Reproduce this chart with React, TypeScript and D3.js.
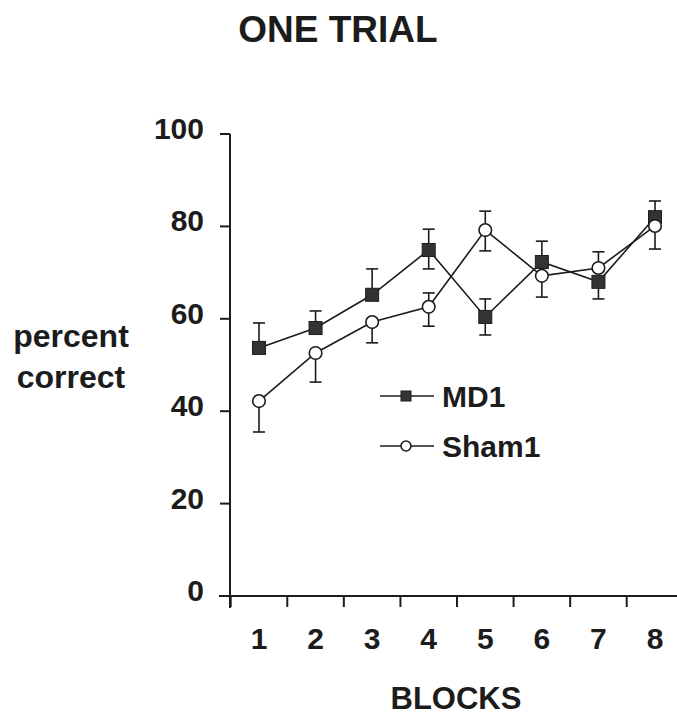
import React from 'react';
import * as d3 from 'd3';

// blocks on the x axis
const blocks = ['1', '2', '3', '4', '5', '6', '7', '8'];
// percent correct per block
const md1 = [53.7, 58.0, 65.2, 74.9, 60.4, 72.3, 68.0, 82.0];
const sham1 = [42.2, 52.6, 59.3, 62.6, 79.2, 69.3, 71.0, 80.1];
// error bars as drawn (0 = not drawn / hidden)
const md1ErrUp = [5.4, 3.7, 5.6, 4.5, 3.9, 4.5, 0, 3.5];
const md1ErrDown = [0, 0, 0, 4.1, 3.9, 0, 3.7, 0];
const shamErrUp = [0, 0, 0, 3.0, 4.1, 0, 3.5, 0];
const shamErrDown = [6.7, 6.3, 4.5, 4.2, 4.5, 4.6, 0, 5.0];
const yTicks = [0, 20, 40, 60, 80, 100];

const W = 677;
const H = 717;
const font = '"Liberation Sans", Arial, sans-serif';
const ink = '#1c1c1c';

const App = () => {
  const x = d3.scaleBand().domain(blocks).range([230.7, 683.3]).padding(0);
  const y = d3.scaleLinear().domain([0, 100]).range([596, 134]);
  const cx = (b: string) => (x(b) as number) + x.bandwidth() / 2;

  const line = d3.line<number>()
    .x((_, i) => cx(blocks[i]))
    .y(d => y(d));

  const errBars = (vals: number[], up: number[], down: number[], key: string) =>
    vals.map((v, i) => {
      const px = cx(blocks[i]);
      const parts = [];
      if (up[i] > 0) {
        parts.push(<line key="u" x1={px} x2={px} y1={y(v)} y2={y(v + up[i])} />);
        parts.push(<line key="uc" x1={px - 6} x2={px + 6} y1={y(v + up[i])} y2={y(v + up[i])} />);
      }
      if (down[i] > 0) {
        parts.push(<line key="d" x1={px} x2={px} y1={y(v)} y2={y(v - down[i])} />);
        parts.push(<line key="dc" x1={px - 6} x2={px + 6} y1={y(v - down[i])} y2={y(v - down[i])} />);
      }
      return <g key={key + i}>{parts}</g>;
    });

  const bandEdges = blocks.map(b => x(b) as number);

  return (
    <svg width={W} height={H} style={{ position: 'absolute', left: 0, top: 0, background: '#fff' }}>
      <rect width={W} height={H} fill="#fff" />
      <text x={338} y={42} textAnchor="middle" fontFamily={font} fontWeight="bold" fontSize={37} fill={ink}>
        ONE TRIAL
      </text>

      {/* axes */}
      <g stroke={ink} strokeWidth={2} fill="none">
        <line x1={230} x2={230} y1={y(100)} y2={608} />
        <line x1={219} x2={W} y1={y(0)} y2={y(0)} />
        {yTicks.map(t => (
          <line key={t} x1={220} x2={230} y1={y(t)} y2={y(t)} />
        ))}
        {bandEdges.map((e, i) => (
          <line key={i} x1={e} x2={e} y1={y(0)} y2={y(0) + 11} />
        ))}
      </g>
      <g fontFamily={font} fontWeight="bold" fontSize={30} fill={ink}>
        {yTicks.map(t => (
          <text key={t} x={204} y={y(t) + 5} textAnchor="end">{t}</text>
        ))}
        {blocks.map(b => (
          <text key={b} x={cx(b)} y={649} textAnchor="middle">{b}</text>
        ))}
      </g>
      <g fontFamily={font} fontWeight="bold" fontSize={32} fill={ink} textAnchor="middle">
        <text x={71} y={347}>percent</text>
        <text x={71} y={388}>correct</text>
      </g>
      <text x={456} y={709} textAnchor="middle" fontFamily={font} fontWeight="bold" fontSize={31} fill={ink}>
        BLOCKS
      </text>

      {/* MD1 */}
      <g stroke={ink} strokeWidth={1.6}>{errBars(md1, md1ErrUp, md1ErrDown, 'm')}</g>
      <path d={line(md1) || ''} fill="none" stroke={ink} strokeWidth={1.6} />
      {md1.map((v, i) => (
        <rect key={i} x={cx(blocks[i]) - 6.5} y={y(v) - 6.5} width={13} height={13} fill="#333" stroke={ink} strokeWidth={1} />
      ))}

      {/* Sham1 */}
      <g stroke={ink} strokeWidth={1.6}>{errBars(sham1, shamErrUp, shamErrDown, 's')}</g>
      <path d={line(sham1) || ''} fill="none" stroke={ink} strokeWidth={1.6} />
      {sham1.map((v, i) => (
        <circle key={i} cx={cx(blocks[i])} cy={y(v)} r={6.3} fill="#fff" stroke={ink} strokeWidth={1.6} />
      ))}

      {/* legend */}
      <g>
        <line x1={380} x2={434} y1={396} y2={396} stroke={ink} strokeWidth={1.6} />
        <rect x={401} y={391} width={10} height={10} fill="#333" stroke={ink} strokeWidth={1} />
        <line x1={380} x2={434} y1={446} y2={446} stroke={ink} strokeWidth={1.6} />
        <circle cx={406} cy={446} r={5} fill="#fff" stroke={ink} strokeWidth={1.6} />
        <g fontFamily={font} fontWeight="bold" fontSize={30} fill={ink}>
          <text x={442} y={407}>MD1</text>
          <text x={442} y={457}>Sham1</text>
        </g>
      </g>
    </svg>
  );
};

export default App;
